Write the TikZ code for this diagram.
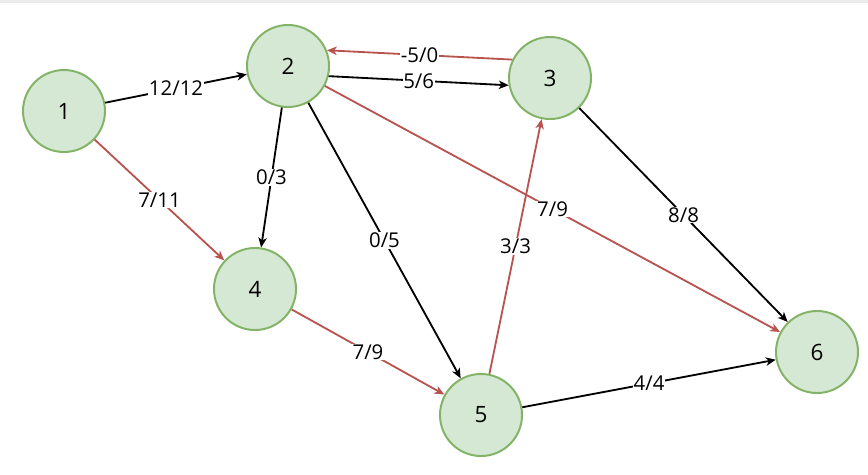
\documentclass[tikz,border=0pt]{standalone}
\usepackage{fontspec}
\usetikzlibrary{arrows.meta}
\setmainfont{Open Sans}
\definecolor{vfill}{HTML}{D5E8D4}
\definecolor{vdraw}{HTML}{82B366}
\definecolor{flowred}{HTML}{B85450}
\begin{document}
\begin{tikzpicture}[
    x=0.025cm, y=-0.025cm,
    % Vertex style
    vertex/.style={
        circle,
        draw=vdraw,
        fill=vfill,
        line width=1.4pt,
        minimum size=2.05cm,
        inner sep=0pt,
        font=\fontsize{16}{18}\selectfont
    },
    % Edge label style
    lbl/.style={
        fill=white,
        inner sep=0.5pt,
        font=\fontsize{14.5}{16}\selectfont
    },
    % Arrow styles
    arrow/.style={->, >={Stealth[length=7pt, width=6pt, inset=2pt]}, line width=1.3pt},
    redarrow/.style={arrow, draw=flowred}
    ]

    \useasboundingbox (0,0) rectangle (868,474);
    \fill[black!8] (0,0) rectangle (868,3);

    % Vertices
    \node[vertex] (v1) at (64,111) {1};
    \node[vertex] (v2) at (288,66) {2};
    \node[vertex] (v3) at (550,78) {3};
    \node[vertex] (v4) at (255,289) {4};
    \node[vertex] (v5) at (481,415) {5};
    \node[vertex] (v6) at (817,352) {6};

    % Edges
    \draw[arrow] (v1) -- (v2) node[lbl, midway] {12/12};
    \draw[redarrow] (v1) -- (v4) node[lbl, midway] {7/11};
    \draw[arrow] (v2) -- (v4) node[lbl, midway] {0/3};
    \draw[arrow] (v2) -- (v5) node[lbl, midway] {0/5};
    \draw[arrow] (v2.-14) -- (v3.-170) node[lbl, midway] {5/6};
    \draw[redarrow] (v3.154) -- (v2.22) node[lbl, midway] {-5/0};
    \draw[redarrow] (v2) -- (v6) node[lbl, midway] {7/9};
    \draw[arrow] (v3) -- (v6) node[lbl, midway] {8/8};
    \draw[redarrow] (v5) -- (v3) node[lbl, midway] {3/3};
    \draw[redarrow] (v4) -- (v5) node[lbl, midway] {7/9};
    \draw[arrow] (v5) -- (v6) node[lbl, midway] {4/4};

\end{tikzpicture}
\end{document}
